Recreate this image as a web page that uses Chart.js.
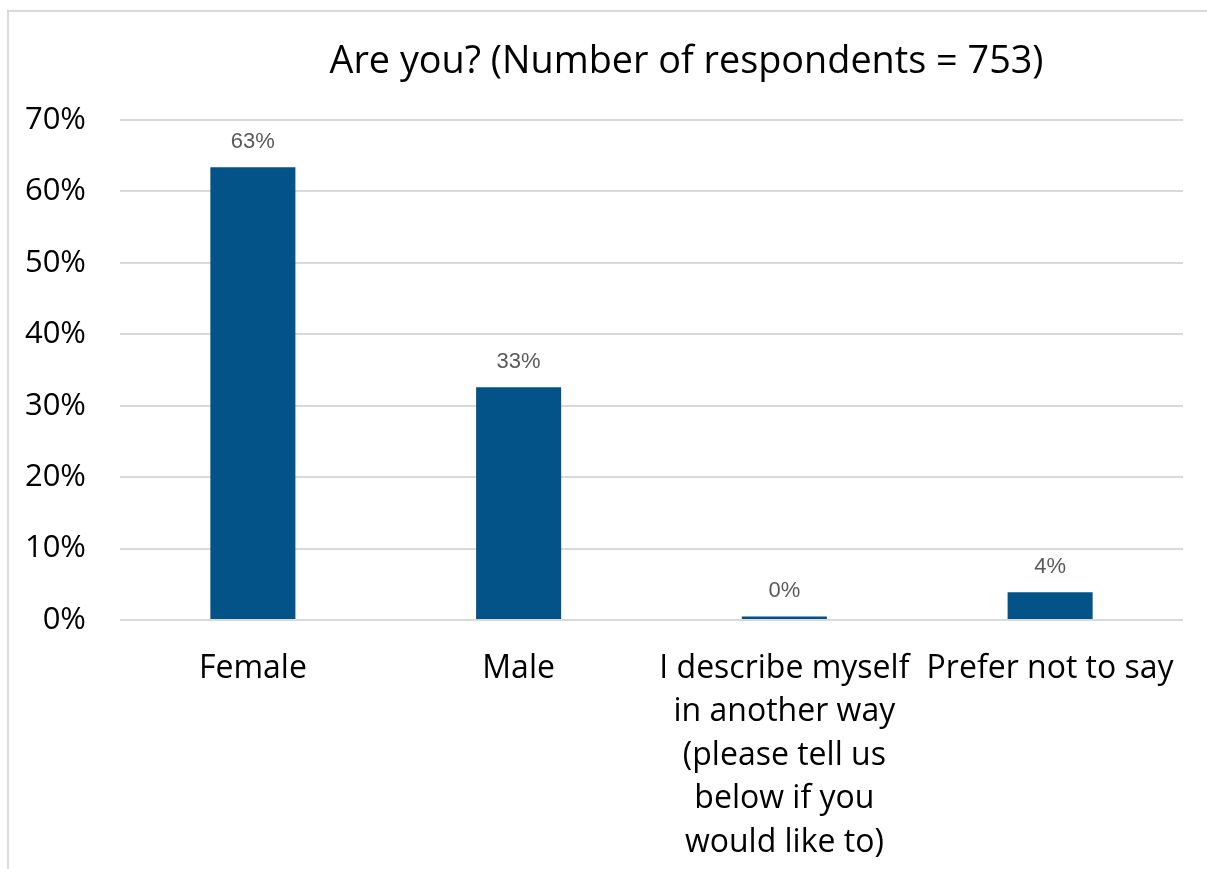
<!DOCTYPE html>
<html>
<head>
<meta charset="utf-8">
<script src="https://cdn.jsdelivr.net/npm/chart.js@4"></script>
<style>
  html, body { margin: 0; padding: 0; background: #fff; }
  #frame { position: absolute; left: 7px; top: 10px; width: 1220px; height: 900px;
           border: 2px solid #d9d9d9; box-sizing: border-box; }
  #wrap { position: absolute; left: 0; top: 0; width: 1207px; height: 869px; }
</style>
</head>
<body>
<div id="frame"></div>
<div id="wrap"><canvas id="chart" width="1207" height="869"></canvas></div>
<script>
"use strict";

const TITLE = "Are you? (Number of respondents = 753)";
const CATEGORIES = [
  "Female",
  "Male",
  ["I describe myself", "in another way", "(please tell us", "below if you", "would like to)"],
  "Prefer not to say",
];
const VALUES = [0.634, 0.326, 0.005, 0.039];
const LABELS = ["63%", "33%", "0%", "4%"];
const Y_TICKS = [0, 0.1, 0.2, 0.3, 0.4, 0.5, 0.6, 0.7];

const BAR = "#035288";
const SANS = "'Open Sans', 'Noto Sans', sans-serif";

const titlePlugin = {
  id: "titleText",
  afterDraw(chart) {
    const ctx = chart.ctx;
    const a = chart.chartArea;
    ctx.save();
    ctx.font = "37.8px " + SANS;
    ctx.fillStyle = "#000";
    ctx.textAlign = "center";
    ctx.textBaseline = "middle";
    ctx.fillText(TITLE, (a.left + a.right) / 2 + 35, 62);
    ctx.restore();
  },
};

const valueLabels = {
  id: "valueLabels",
  afterDatasetsDraw(chart) {
    const ctx = chart.ctx;
    const meta = chart.getDatasetMeta(0);
    ctx.save();
    ctx.font = "22px 'Liberation Sans', Arial, sans-serif";
    ctx.fillStyle = "#595959";
    ctx.textAlign = "center";
    ctx.textBaseline = "middle";
    meta.data.forEach((bar, i) => {
      ctx.fillText(LABELS[i], bar.x, bar.y - 25);
    });
    ctx.restore();
  },
};

new Chart(document.getElementById("chart"), {
  type: "bar",
  data: {
    labels: CATEGORIES,
    datasets: [{
      data: VALUES,
      backgroundColor: BAR,
      categoryPercentage: 1,
      barPercentage: 0.32,
    }],
  },
  options: {
    responsive: false,
    animation: false,
    events: [],
    layout: { padding: { top: 120, right: 24, left: 0, bottom: 0 } },
    plugins: { legend: { display: false }, title: { display: false }, tooltip: { enabled: false } },
    scales: {
      x: {
        grid: { display: false },
        border: { display: false },
        ticks: { color: "#000", font: { family: SANS, size: 32, lineHeight: 1.36 }, padding: 19,
                 maxRotation: 0, autoSkip: false },
        afterFit: (s) => { s.height = 249; },
      },
      y: {
        min: 0, max: 0.7,
        afterBuildTicks: (s) => { s.ticks = Y_TICKS.map((v) => ({ value: v })); },
        grid: { color: "#d9d9d9", lineWidth: 2, drawTicks: false },
        border: { display: false },
        ticks: { color: "#000", font: { family: SANS, size: 31 }, padding: 34,
                 callback: (v) => Math.round(v * 100) + "%" },
        afterFit: (s) => { s.width = 120; },
      },
    },
  },
  plugins: [titlePlugin, valueLabels],
});
</script>
</body>
</html>
